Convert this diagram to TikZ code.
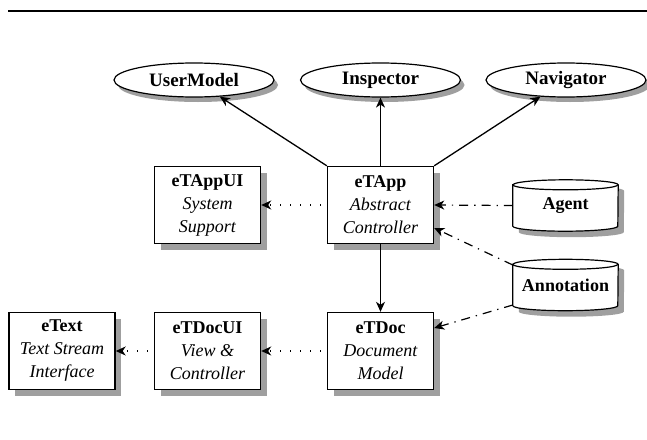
\documentclass[tikz,border=0pt]{standalone}
\usepackage{fontspec}
\setmainfont{Liberation Serif}
\usetikzlibrary{shapes.geometric,arrows.meta,shadows}
\pgfdeclarelayer{bg}
\pgfsetlayers{bg,main}
\newcommand\drawcyl[1]{%
  \fill[gray!75] ([shift={(6pt,-11pt)}]#1.north west) -- ([shift={(6pt,-1pt)}]#1.south west)
    arc[start angle=180,end angle=360,x radius=52.5pt,y radius=5pt]
    -- ([shift={(6pt,-11pt)}]#1.north east)
    arc[start angle=0,end angle=180,x radius=52.5pt,y radius=5pt] -- cycle;
  \filldraw[fill=white,line width=1.2pt] ([yshift=-5pt]#1.north west) -- ([yshift=5pt]#1.south west)
    arc[start angle=180,end angle=360,x radius=52.5pt,y radius=5pt]
    -- ([yshift=-5pt]#1.north east)
    arc[start angle=0,end angle=180,x radius=52.5pt,y radius=5pt] -- cycle;
  \draw[line width=1.2pt] ([yshift=-5pt]#1.north west)
    arc[start angle=180,end angle=360,x radius=52.5pt,y radius=5pt];}
\begin{document}
\begin{tikzpicture}[x=1pt,y=1pt,
  txt/.style={font=\fontsize{18}{23}\selectfont},
  shd/.style={drop shadow={shadow xshift=6pt,shadow yshift=-6pt,fill=gray!75,opacity=1}},
  cls/.style={txt,draw,line width=1.4pt,fill=white,minimum width=106pt,minimum height=77pt,inner sep=0pt,align=center,shd},
  ell/.style={ellipse,draw,line width=1.2pt,fill=white,minimum width=160pt,minimum height=34pt,inner sep=0pt,
    font=\fontsize{19}{23}\selectfont\bfseries,
    drop shadow={shadow xshift=4pt,shadow yshift=-5pt,fill=gray!75,opacity=1}},
  cyl/.style={minimum width=105pt,minimum height=51pt,inner sep=0pt,font=\fontsize{18}{23}\selectfont\bfseries},
  tip/.style={-{Stealth[length=10pt,width=9pt,inset=3pt]}},
  solidarr/.style={tip,line width=1.3pt},
  dotarr/.style={tip,line width=1.3pt,dash pattern=on 1.3pt off 8.7pt,shorten <=6pt},
  dotdash/.style={tip,line width=1.2pt,dash pattern=on 9pt off 6pt on 1.3pt off 6pt},
]
\useasboundingbox (0,0) rectangle (647,-439);
\draw[line width=2pt] (8,-11) -- (647,-11);

\node[ell] (um) at (194,-80) {UserModel};
\node[ell] (insp) at (380.5,-80) {Inspector};
\node[ell] (nav) at (566,-80) {Navigator};

\node[cls] (appui) at (207.5,-205) {\textbf{eTAppUI}\\\textit{System}\\\textit{Support}};
\node[cls] (app) at (380.5,-205) {\textbf{eTApp}\\\textit{Abstract}\\\textit{Controller}};
\node[cls] (etext) at (62,-351) {\textbf{eText}\\\textit{Text Stream}\\\textit{Interface}};
\node[cls] (docui) at (207.5,-351) {\textbf{eTDocUI}\\\textit{View \&}\\\textit{Controller}};
\node[cls] (doc) at (380.5,-351) {\textbf{eTDoc}\\\textit{Document}\\\textit{Model}};

\node[cyl] (agent) at (565.5,-205.5) {Agent};
\node[cyl] (ann) at (565.5,-285) {Annotation};
\begin{pgfonlayer}{bg}
\drawcyl{agent}
\drawcyl{ann}
\end{pgfonlayer}

\draw[solidarr] (app.north west) -- (um);
\draw[solidarr] (app) -- (insp);
\draw[solidarr] (app.north east) -- (nav);
\draw[solidarr] (app) -- (doc);

\draw[dotarr] (app.west) -- (appui.east);
\draw[dotarr] (doc.west) -- (docui.east);
\draw[dotarr] (docui.west) -- (etext.east);

\draw[dotdash] (agent.west) -- (app.east);
\draw[dotdash] ([yshift=20pt]ann.west) -- ([yshift=-23pt]app.east);
\draw[dotdash] ([yshift=-20pt]ann.west) -- ([yshift=23pt]doc.east);
\end{tikzpicture}
\end{document}
